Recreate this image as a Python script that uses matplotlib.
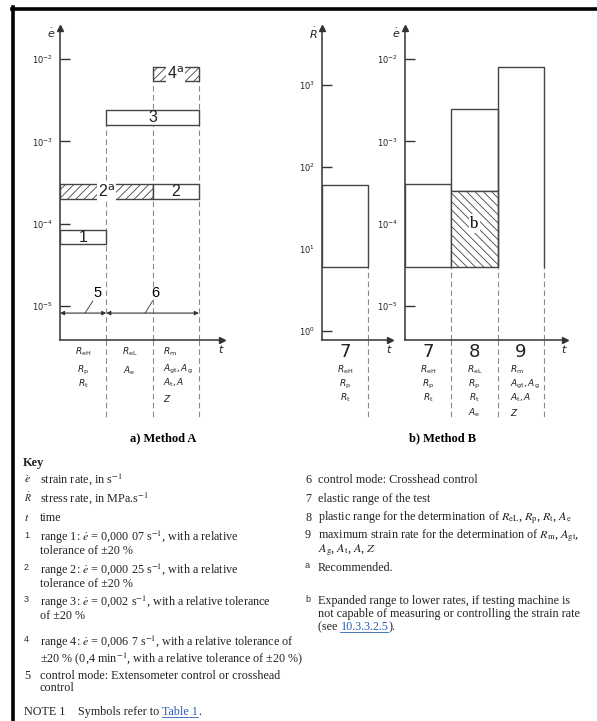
import matplotlib.pyplot as plt
from matplotlib.lines import Line2D
from matplotlib.ticker import NullLocator, LogFormatterSciNotation

# ---- data (read off the figure / key) ----
# method A: strain rate ranges (lower, upper) and the columns they span
a_names = ['1', '2', '3', '4']
a_lo = [5.6e-5, 2.0e-4, 1.6e-3, 5.36e-3]
a_hi = [8.4e-5, 3.0e-4, 2.4e-3, 8.04e-3]
a_start = [0, 0, 1, 2]
a_end = [1, 3, 3, 3]
a_hatch_end = [0, 2, 1, 3]   # hatched ("recommended") part ends at this column
a_labels = ['1', '2$^{\\rm a}$', '3', '4$^{\\rm a}$']

# method B: stress rate in elastic range (MPa/s)
b_R_lo, b_R_hi = 6, 60
# method B: strain rate per column 7, 8, 9
b_cols = ['7', '8', '9']
b_e_lo = [3.0e-5, 2.5e-4, 3.0e-5]
b_e_hi = [3.0e-4, 2.5e-3, 8.0e-3]
b_ext_lo, b_ext_hi = 3.0e-5, 2.5e-4   # footnote b, expanded range in column 8

a_col_text = [[r'$R_{\rm eH}$', r'$R_{\rm p}$', r'$R_{\rm t}$'],
              [r'$R_{\rm eL}$', r'$A_{\rm e}$'],
              [r'$R_{\rm m}$', r'$A_{\rm gt}, A_{\rm g}$', r'$A_{\rm t}, A$', r'$Z$']]
b_col_text = [[r'$R_{\rm eH}$', r'$R_{\rm p}$', r'$R_{\rm t}$'],
              [r'$R_{\rm eL}$', r'$R_{\rm p}$', r'$R_{\rm t}$', r'$A_{\rm e}$'],
              [r'$R_{\rm m}$', r'$A_{\rm gt}, A_{\rm g}$', r'$A_{\rm t}, A$', r'$Z$']]

W, H = 597, 721
plt.rcParams['hatch.linewidth'] = 0.6
fig = plt.figure(figsize=(W / 100, H / 100), dpi=100)

INK = '#333333'
EDGE = '#444444'
DASH = '#8a8a8a'
SERIF = 'Liberation Serif'


def fx(x):
    return x / W


def fy(y):
    return 1 - y / H


def add_ax(x0, y0, x1, y1):
    return fig.add_axes([fx(x0), fy(y1), (x1 - x0) / W, (y1 - y0) / H])


def setup(ax, xmax, ylim, ticks, ylab):
    ax.set_yscale('log')
    ax.set_xlim(0, xmax)
    ax.set_ylim(*ylim)
    for s in ['top', 'right']:
        ax.spines[s].set_visible(False)
    for s in ['left', 'bottom']:
        ax.spines[s].set_color(INK)
        ax.spines[s].set_linewidth(1.1)
    ax.set_yticks(ticks)
    ax.yaxis.set_major_formatter(LogFormatterSciNotation())
    ax.yaxis.set_minor_locator(NullLocator())
    ax.set_xticks([])
    ax.tick_params(axis='y', direction='in', length=7, width=1.0, color=INK,
                   labelsize=6, pad=5, labelcolor='#222222')
    ax.patch.set_alpha(0)
    ax.plot(0, 1, marker='^', ms=4, color=INK, transform=ax.transAxes, clip_on=False)
    ax.plot(1, 0, marker='>', ms=4, color=INK, transform=ax.transAxes, clip_on=False)
    ax.annotate(ylab, xy=(0, 1), xycoords='axes fraction', xytext=(-9, -5),
                textcoords='offset pixels', ha='center', va='center', fontsize=8,
                color='#222222')
    ax.annotate('$t$', xy=(1, 0), xycoords='axes fraction', xytext=(-1, -9),
                textcoords='offset pixels', ha='center', va='center', fontsize=8,
                color='#222222')


def dashed(ax, x, ytop, axh):
    ax.plot([x, x], [ax.get_ylim()[0], ytop], ls=(0, (5, 3)), lw=0.8, color=DASH, zorder=1)
    ax.plot([x, x], [0, -(417 - 340) / axh], ls=(0, (5, 3)), lw=0.8, color=DASH,
            transform=ax.get_xaxis_transform(), clip_on=False, zorder=1)


def under(ax, x, dy, s, size=6.5, ha='center'):
    ax.annotate(s, xy=(x, 0), xycoords=ax.get_xaxis_transform(), xytext=(0, -dy),
                textcoords='offset pixels', ha=ha, va='center', fontsize=size,
                color='#222222')


E_LIM = (10 ** (-2 - (340 - 59) / 82.33), 10 ** (-2 + (59 - 28) / 82.33))
R_LIM = (10 ** (0 - (340 - 331) / 82.0), 10 ** (3 + (85 - 28) / 82.0))
AXH = 312

# ---------------- method A ----------------
axA = add_ax(60, 28, 222, 340)
setup(axA, 3.5, E_LIM, [1e-5, 1e-4, 1e-3, 1e-2], r'$\dot{e}$')

for x, top in [(1, 1.6e-3), (2, 5.36e-3), (3, 5.36e-3)]:
    dashed(axA, x, top, AXH)

for i in range(len(a_names)):
    h = a_hi[i] - a_lo[i]
    if a_hatch_end[i] > a_start[i]:
        axA.bar(a_start[i], h, bottom=a_lo[i], width=a_hatch_end[i] - a_start[i], align='edge',
                facecolor='white', edgecolor=EDGE, hatch='////', lw=1.0, zorder=3)
    if a_end[i] > a_hatch_end[i] and a_hatch_end[i] >= a_start[i]:
        s = max(a_hatch_end[i], a_start[i])
        axA.bar(s, h, bottom=a_lo[i], width=a_end[i] - s, align='edge',
                facecolor='white', edgecolor=EDGE, lw=1.0, zorder=3)

box_kw = dict(ha='center', va='center', fontsize=11.5, family='Liberation Sans', zorder=5,
              color='#222222')
white = dict(boxstyle='square,pad=0.05', fc='white', ec='none')
axA.text(0.5, (a_lo[0] * a_hi[0]) ** 0.5, a_labels[0], **box_kw)
axA.text(1.0, (a_lo[1] * a_hi[1]) ** 0.5, a_labels[1], bbox=white, **box_kw)
axA.text(2.5, (a_lo[1] * a_hi[1]) ** 0.5, a_names[1], **box_kw)
axA.text(2.0, (a_lo[2] * a_hi[2]) ** 0.5, a_labels[2], **box_kw)
axA.text(2.5, (a_lo[3] * a_hi[3]) ** 0.5, a_labels[3], bbox=white, **box_kw)

# control mode arrows 5 and 6
y_arr = 8.2e-6
for x0, x1 in [(0, 1), (1, 3)]:
    axA.annotate('', xy=(x1, y_arr), xytext=(x0, y_arr),
                 arrowprops=dict(arrowstyle='<|-|>', color=INK, lw=0.8,
                                 shrinkA=0, shrinkB=0, mutation_scale=6))
axA.plot([0.71, 0.54], [1.15e-5, y_arr], color=INK, lw=0.6)
axA.plot([2.0, 1.84], [1.15e-5, y_arr], color=INK, lw=0.6)
axA.text(0.8, 1.45e-5, '5', ha='center', va='center', fontsize=10.5, family='Liberation Sans')
axA.text(2.05, 1.45e-5, '6', ha='center', va='center', fontsize=10.5, family='Liberation Sans')

for s, dy in zip(a_col_text[0], [12, 30, 44]):
    under(axA, 0.5, dy, s)
for s, dy in zip(a_col_text[1], [12, 31]):
    under(axA, 1.5, dy, s)
for s, dy in zip(a_col_text[2], [12, 29, 43, 58]):
    under(axA, 2.22, dy, s, ha='left')

# ---------------- method B: stress rate ----------------
axR = add_ax(322, 28, 390, 340)
setup(axR, 68 / 46.0, R_LIM, [1, 10, 100, 1000], r'$\dot{R}$')
dashed(axR, 1, b_R_lo, AXH)
axR.bar(0, b_R_hi - b_R_lo, bottom=b_R_lo, width=1, align='edge',
        facecolor='white', edgecolor=EDGE, lw=1.0, zorder=3)
under(axR, 0.5, 12, b_cols[0], size=13)
for s, dy in zip(b_col_text[0], [30, 44, 58]):
    under(axR, 0.5, dy, s)

# ---------------- method B: strain rate ----------------
axB = add_ax(405, 28, 565, 340)
setup(axB, 160 / 46.3, E_LIM, [1e-5, 1e-4, 1e-3, 1e-2], r'$\dot{e}$')
for x in [1, 2, 3]:
    dashed(axB, x, b_ext_lo, AXH)
axB.bar(0, b_e_hi[0] - b_e_lo[0], bottom=b_e_lo[0], width=1, align='edge',
        facecolor='white', edgecolor=EDGE, lw=1.0, zorder=3)
axB.bar(1, b_e_hi[1] - b_e_lo[1], bottom=b_e_lo[1], width=1, align='edge',
        facecolor='white', edgecolor=EDGE, lw=1.0, zorder=3)
axB.bar(1, b_ext_hi - b_ext_lo, bottom=b_ext_lo, width=1, align='edge',
        facecolor='white', edgecolor=EDGE, hatch='\\\\\\\\', lw=1.0, zorder=3)
axB.fill_between([2, 3], b_e_lo[2], b_e_hi[2], color='white', zorder=2)
axB.plot([2, 2, 3, 3], [b_e_lo[2], b_e_hi[2], b_e_hi[2], b_e_lo[2]], color=EDGE, lw=1.0, zorder=4)
axB.text(1.5, 1.0e-4, 'b', ha='center', va='center', fontsize=12, family=SERIF,
         bbox=dict(boxstyle='square,pad=0.1', fc='white', ec='none'), zorder=5)
for j, name in enumerate(b_cols):
    under(axB, j + 0.5, 12, name, size=13)
for s, dy in zip(b_col_text[0], [30, 44, 58]):
    under(axB, 0.5, dy, s)
for s, dy in zip(b_col_text[1], [30, 44, 58, 73]):
    under(axB, 1.5, dy, s)
for s, dy in zip(b_col_text[2], [30, 44, 58, 73]):
    under(axB, 2.27, dy, s, ha='left')

fig.text(fx(163), fy(438), 'a) Method A', ha='center', va='center', fontsize=9,
         family=SERIF, weight='bold')
fig.text(fx(443), fy(438), 'b) Method B', ha='center', va='center', fontsize=9,
         family=SERIF, weight='bold')

# ---------------- key ----------------
KS = 8.7
renderer = fig.canvas.get_renderer()


def kt(x, y, s, size=KS, **kw):
    kw.setdefault('family', SERIF)
    kw.setdefault('color', '#222222')
    return fig.text(fx(x), fy(y + 3), s, ha='left', va='baseline', fontsize=size,
                    math_fontfamily='stix', **kw)


def pieces(x, y, parts):
    cur = x
    for s, link in parts:
        t = kt(cur, y, s, color='#2a5db0' if link else '#222222')
        w = t.get_window_extent(renderer).width
        if link:
            fig.add_artist(Line2D([fx(cur), fx(cur + w)], [fy(y + 5), fy(y + 5)],
                                  color='#2a5db0', lw=0.6))
        cur += w


def num(x, y, s):
    fig.text(fx(x), fy(y), s, ha='left', va='center', fontsize=6.5,
             family='Liberation Sans', color='#333333')


ed = r'$\dot{e}$'
kt(23, 463, 'Key', size=9, weight='bold')
kt(24, 480, ed)
kt(40, 480, 'strain rate, in s$^{-1}$')
kt(24, 499, r'$\dot{R}$', size=7)
kt(40, 499, 'stress rate, in MPa.s$^{-1}$')
kt(24, 518, '$t$')
kt(40, 518, 'time')
num(24, 535, '1')
kt(40, 538, 'range 1: ' + ed + ' = 0,000 07 s$^{-1}$, with a relative')
kt(40, 551, 'tolerance of ±20 %')
num(24, 568, '2')
kt(40, 571, 'range 2: ' + ed + ' = 0,000 25 s$^{-1}$, with a relative')
kt(40, 584, 'tolerance of ±20 %')
num(24, 600, '3')
kt(40, 603, 'range 3: ' + ed + ' = 0,002 s$^{-1}$, with a relative tolerance')
kt(40, 616, 'of ±20 %')
num(24, 640, '4')
kt(40, 643, 'range 4: ' + ed + ' = 0,006 7 s$^{-1}$, with a relative tolerance of')
kt(40, 659, '±20 % (0,4 min$^{-1}$, with a relative tolerance of ±20 %)')
kt(24, 676, '5')
kt(40, 676, 'control mode: Extensometer control or crosshead')
kt(40, 688, 'control')
kt(24, 712, 'NOTE 1')
pieces(78, 712, [('Symbols refer to\u00a0', False), ('Table 1', True), ('.', False)])

kt(305, 480, '6')
kt(318, 480, 'control mode: Crosshead control')
kt(305, 499, '7')
kt(318, 499, 'elastic range of the test')
kt(305, 518, '8')
kt(318, 518, r'plastic range for the determination of $R_{\rm eL}$, $R_{\rm p}$, $R_{\rm t}$, $A_{\rm e}$')
kt(305, 535, '9')
kt(318, 535, r'maximum strain rate for the determination of $R_{\rm m}$, $A_{\rm gt}$,')
kt(318, 550, r'$A_{\rm g}$, $A_{\rm t}$, $A$, $Z$')
num(305, 566, 'a')
kt(318, 568, 'Recommended.')
num(305, 599, 'b')
kt(318, 601, 'Expanded range to lower rates, if testing machine is')
kt(318, 614, 'not capable of measuring or controlling the strain rate')
pieces(318, 627, [('(see\u00a0', False), ('10.3.3.2.5', True), (').', False)])

# page frame
fig.add_artist(Line2D([fx(13), fx(13)], [fy(7), 0], color='black', lw=2.6))
fig.add_artist(Line2D([fx(12), 1], [fy(8.5), fy(8.5)], color='black', lw=2.6))

fig.savefig('out.png', dpi=100)
